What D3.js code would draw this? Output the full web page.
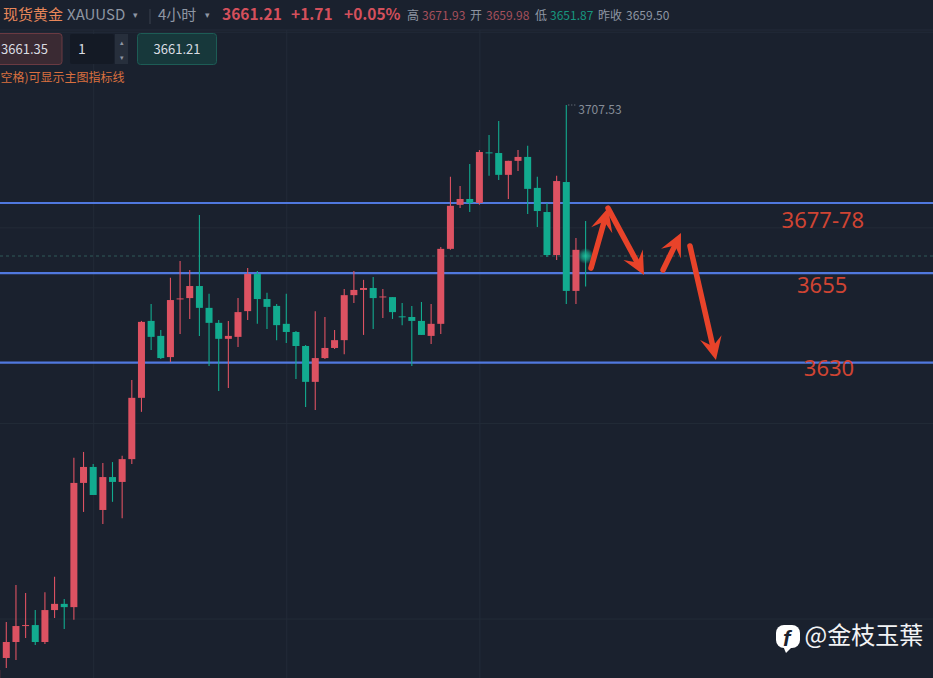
<!DOCTYPE html>
<html><head><meta charset="utf-8">
<script src="https://cdn.jsdelivr.net/npm/d3@7"></script>
<style>html,body{margin:0;padding:0;background:#1a212e;overflow:hidden}svg{display:block}
text{font-family:"Noto Sans CJK SC","Noto Sans",sans-serif}</style></head><body>
<svg id="c" width="933" height="678"></svg>
<script>
// candle index starts at -1
const firstIndex = -1;
const opens = [3531.2,3537.9,3542.8,3547.7,3548.0,3542.8,3552.6,3554.5,3553.5,3591.6,3596.5,3583.3,3593.4,3591.9,3598.9,3617.7,3641.3,3636.7,3630.2,3647.9,3648.3,3652.0,3645.3,3640.7,3635.8,3636.4,3644.3,3655.7,3648.0,3645.9,3640.4,3637.9,3633.6,3622.6,3629.9,3633.0,3635.4,3649.2,3650.8,3651.4,3648.5,3648.6,3642.7,3642.5,3641.3,3636.7,3640.4,3663.4,3676.9,3678.7,3677.5,3693.0,3692.8,3686.1,3690.4,3691.6,3682.1,3674.7,3661.5,3683.9,3650.5,3661.35];
const highs = [3537.3,3548.9,3560.3,3557.8,3552.6,3558.1,3562.8,3556.0,3599.3,3601.1,3597.4,3597.7,3598.0,3599.9,3623.2,3641.3,3646.5,3638.5,3654.5,3659.7,3656.9,3673.8,3649.6,3641.6,3641.3,3648.3,3657.5,3656.6,3649.9,3646.5,3649.6,3638.2,3633.9,3644.3,3642.5,3638.5,3651.1,3656.6,3653.9,3654.8,3651.1,3648.6,3646.8,3645.9,3647.1,3646.5,3664.0,3685.5,3682.7,3689.4,3693.7,3698.3,3702.6,3690.4,3693.7,3695.0,3685.5,3677.5,3685.8,3707.53,3666.7,3671.93];
const lows = [3528.1,3534.8,3537.3,3544.0,3541.9,3542.2,3550.2,3546.8,3549.6,3582.7,3587.9,3579.0,3585.8,3580.8,3597.4,3613.4,3632.4,3629.6,3628.7,3637.3,3641.9,3636.7,3627.5,3619.8,3620.7,3633.3,3641.6,3640.4,3638.8,3635.4,3634.5,3623.5,3614.9,3614.0,3629.6,3632.7,3631.1,3646.8,3637.0,3638.8,3642.2,3641.9,3640.0,3627.5,3637.0,3634.2,3637.3,3663.1,3675.9,3674.7,3676.9,3685.8,3684.5,3678.7,3687.3,3674.1,3670.1,3660.9,3660.0,3646.5,3646.5,3651.87];
const closes = [3534.2,3542.8,3547.7,3548.0,3542.8,3552.6,3554.5,3553.5,3591.6,3596.5,3587.9,3593.4,3591.9,3598.9,3617.7,3641.0,3636.4,3629.9,3647.7,3648.2,3652.0,3645.3,3640.7,3635.8,3636.7,3644.0,3655.7,3648.0,3645.6,3640.0,3637.9,3633.6,3622.6,3629.9,3633.0,3635.4,3649.2,3650.8,3651.4,3648.3,3648.8,3644.0,3642.4,3641.3,3637.0,3640.4,3663.4,3676.6,3678.7,3677.5,3693.1,3692.7,3686.1,3690.4,3691.6,3681.8,3675.0,3661.5,3684.2,3650.5,3663.1,3661.21];
const gridPrices = [3730,3670,3610,3550];
const gridIndices = [9,29,49];
const levelPrices = [3677.47,3655.97,3628.5];
const levelLabels = ["3677-78","3655","3630"];
const levelLabelPrices = [3669.8,3649.9,3624.4];
const levelLabelIndices = [80.3,81.9,82.6];
const arrowIdx = [[60.56,62.32],[62.32,66.05],[68.02,69.88],[70.81,73.5]];
const arrowPrice = [[3657.5,3675.9],[3675.9,3655.4],[3656.9,3668.3],[3664.3,3629.3]];
const headerCells = [
 ["现货黄金",3,15,"#e8875a",400],["XAUUSD",67,15,"#8e96a3",400],["▾",133,9,"#8e96a3",400],
 ["4小时",158,15,"#8e96a3",400],["▾",205,9,"#8e96a3",400],
 ["3661.21",222,15.5,"#d4505c",700],["+1.71",291,15.5,"#d4505c",700],["+0.05%",344,15.5,"#d4505c",700],
 ["高",407,12,"#8e96a3",400],["3671.93",422,12,"#a5505c",400],["开",470,12,"#8e96a3",400],["3659.98",486,12,"#a5505c",400],
 ["低",535,12,"#8e96a3",400],["3651.87",550,12,"#17967f",400],["昨收",598,12,"#8e96a3",400],["3659.50",626,12,"#8e96a3",400]];

const W=933,H=678;
const x=d3.scaleLinear().domain([-1,60]).range([-3.36,585.6]);
const y=d3.scaleLinear().domain([3707.53,3661.21]).range([105,256]);
const svg=d3.select("#c");
svg.append("rect").attr("width",W).attr("height",H).attr("fill","#1a212e");
const defs=svg.append("defs");
const rg=defs.append("radialGradient").attr("id","glow");
rg.append("stop").attr("offset","0%").attr("stop-color","#1fc4a0").attr("stop-opacity",.95);
rg.append("stop").attr("offset","50%").attr("stop-color","#17a88c").attr("stop-opacity",.7);
rg.append("stop").attr("offset","100%").attr("stop-color","#17a88c").attr("stop-opacity",0);

// grid via axes
const gx=svg.append("g").call(d3.axisBottom(x).tickValues(gridIndices).tickSize(H).tickFormat(""));
const gy=svg.append("g").call(d3.axisRight(y).tickValues(gridPrices).tickSize(W).tickFormat(""));
[gx,gy].forEach(g=>{g.select(".domain").remove();g.selectAll("line").attr("stroke","#232b38").attr("stroke-width",1);});
gx.selectAll("line").attr("y1",30);

// current price dashed
svg.append("line").attr("x1",0).attr("x2",W).attr("y1",y(3661.21)).attr("y2",y(3661.21))
  .attr("stroke","#2f5a58").attr("stroke-dasharray","3,3");

const candles=opens.map((o,i)=>({i:i+firstIndex,o,h:highs[i],l:lows[i],c:closes[i]}));
const red="#dd5262",green="#12ab8f";
const isUp=d=>d.i===60?false:d.c>=d.o;

// level lines
svg.selectAll("line.level").data(levelPrices).join("line").attr("class","level")
  .attr("x1",0).attr("x2",W).attr("y1",d=>y(d)).attr("y2",d=>y(d))
  .attr("stroke","#5078de").attr("stroke-width",2.2);

const cg=svg.selectAll("g.k").data(candles).join("g").attr("class","k");
cg.append("line").attr("x1",d=>x(d.i)).attr("x2",d=>x(d.i)).attr("y1",d=>y(d.h)).attr("y2",d=>y(d.l))
  .attr("stroke",d=>isUp(d)?red:green).attr("stroke-width",1.1);
cg.filter(d=>d.i<60).append("rect").attr("x",d=>x(d.i)-3.5).attr("width",7)
  .attr("y",d=>Math.min(y(d.o),y(d.c))).attr("height",d=>Math.max(1,Math.abs(y(d.o)-y(d.c))))
  .attr("fill",d=>isUp(d)?red:green);

// glow
svg.append("circle").attr("cx",x(60)).attr("cy",y(3661.21)).attr("r",8).attr("fill","url(#glow)");

// high label
svg.append("line").attr("x1",x(58)+2).attr("x2",x(58)+11).attr("y1",y(3707.53)).attr("y2",y(3707.53))
  .attr("stroke","#7d8590").attr("stroke-dasharray","1,2");
svg.append("text").attr("x",x(58)+12).attr("y",y(3707.53)+9).attr("font-size",12).attr("fill","#868d98").text("3707.53");

// level labels
svg.selectAll("text.lv").data(levelLabels).join("text").attr("class","lv")
  .attr("x",(d,i)=>x(levelLabelIndices[i])).attr("y",(d,i)=>y(levelLabelPrices[i]))
  .attr("font-size",22).attr("fill","#cf4433").attr("style",'font-family:"Noto Sans"').text(d=>d);

// arrows
const ac="#e8432a";
arrowIdx.forEach((ix,k)=>{
  const x0=x(ix[0]),y0=y(arrowPrice[k][0]),x1=x(ix[1]),y1=y(arrowPrice[k][1]);
  const L=Math.hypot(x1-x0,y1-y0),ux=(x1-x0)/L,uy=(y1-y0)/L,nx=-uy,ny=ux;
  svg.append("line").attr("x1",x0).attr("y1",y0).attr("x2",x1-ux*8).attr("y2",y1-uy*8)
    .attr("stroke",ac).attr("stroke-width",5.5).attr("stroke-linecap","round");
  const p=(b,s)=>[x1-ux*b+nx*s,y1-uy*b+ny*s];
  svg.append("path").attr("d",d3.line()([[x1,y1],p(23,11),p(14,0),p(23,-11)])+"Z").attr("fill",ac);
});

// header
svg.append("line").attr("x1",0).attr("x2",W).attr("y1",30).attr("y2",30).attr("stroke","#232b38");
svg.selectAll("text.hd").data(headerCells).join("text").attr("class","hd")
  .attr("x",d=>d[1]).attr("y",d=>d[2]===9?18:20).attr("font-size",d=>d[2]).attr("fill",d=>d[3]).attr("font-weight",d=>d[4]).text(d=>d[0]);
svg.append("line").attr("x1",150).attr("x2",150).attr("y1",9).attr("y2",24).attr("stroke","#3a424f");

// trade widgets
svg.append("rect").attr("x",-4).attr("y",33.5).attr("width",66).attr("height",31).attr("rx",3).attr("fill","#3a2a33").attr("stroke","#6a3a42");
svg.append("text").attr("x",24.5).attr("y",54).attr("text-anchor","middle").attr("font-size",13).attr("fill","#d9dce2").text("3661.35");
svg.append("rect").attr("x",70).attr("y",34).attr("width",44).attr("height",30).attr("rx",2).attr("fill","#141a25");
svg.append("rect").attr("x",115).attr("y",34).attr("width",13).attr("height",30).attr("fill","#272f3c");
svg.append("text").attr("x",121.5).attr("y",45).attr("text-anchor","middle").attr("font-size",7).attr("fill","#8e96a3").text("▴");
svg.append("text").attr("x",121.5).attr("y",60).attr("text-anchor","middle").attr("font-size",7).attr("fill","#8e96a3").text("▾");
svg.append("text").attr("x",78).attr("y",54).attr("font-size",14).attr("fill","#d9dce2").text("1");
svg.append("rect").attr("x",137.5).attr("y",33.5).attr("width",79).attr("height",31).attr("rx",3).attr("fill","#17383b").attr("stroke","#1d5c55");
svg.append("text").attr("x",177).attr("y",54).attr("text-anchor","middle").attr("font-size",13).attr("fill","#d9dce2").text("3661.21");
svg.append("text").attr("x",0.5).attr("y",82).attr("font-size",12).attr("fill","#d9703f").text("空格)可显示主图指标线");

// watermark
const wm=svg.append("g");
wm.append("rect").attr("x",776).attr("y",625).attr("width",24).attr("height",23).attr("rx",8).attr("fill","#fff");
wm.append("path").attr("d",d3.line()([[783,646],[793,646],[786,653]])+"Z").attr("fill","#fff");
wm.append("text").attr("x",783).attr("y",646).attr("font-size",22).attr("font-weight",700).attr("font-style","italic").attr("fill","#1a212e").attr("style",'font-family:"Liberation Sans"').text("f");
wm.append("text").attr("x",804.5).attr("y",644).attr("font-size",24).attr("fill","#f2f3f5").attr("style",'font-family:"Noto Sans CJK TC"').text("@金枝玉葉");
</script></body></html>
